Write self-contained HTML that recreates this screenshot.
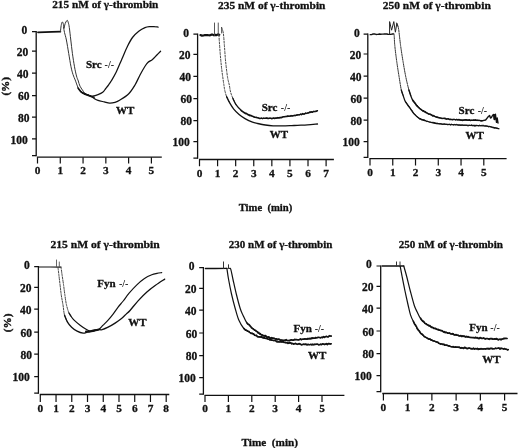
<!DOCTYPE html>
<html><head><meta charset="utf-8"><style>
html,body{margin:0;padding:0;background:#fff;width:520px;height:448px;overflow:hidden;}
body{position:relative;font-family:"Liberation Serif",serif;}
text{fill:#111;}
</style></head><body>
<svg width="520" height="448" viewBox="0 0 520 448" style="will-change:transform;position:absolute;left:0;top:0;font-family:'Liberation Serif', serif">
<rect width="520" height="448" fill="#fff"/>
<path d="M36.2 31 V156.3" stroke="#111" stroke-width="1.3" fill="none"/>
<path d="M32 31.6 H36.2 M32 51.2 H36.2 M32 73.1 H36.2 M32 95.6 H36.2 M32 117.1 H36.2 M32 138.9 H36.2 M32 155.7 H36.2 " stroke="#111" stroke-width="1.2" fill="none"/>
<path d="M36.9 157.2 H161.8" stroke="#111" stroke-width="1.3" fill="none"/>
<path d="M37.5 157.2 V163.4 M60.28 157.2 V163.4 M83.06 157.2 V163.4 M105.84 157.2 V163.4 M128.62 157.2 V163.4 M151.4 157.2 V163.4 " stroke="#111" stroke-width="1.2" fill="none"/>
<text x="27.3" y="33.9" font-size="11.5" font-weight="bold" text-anchor="end" stroke="#111" stroke-width="0.3">0</text>
<text x="28.2" y="56.1" font-size="11.5" font-weight="bold" text-anchor="end" stroke="#111" stroke-width="0.3">20</text>
<text x="28.5" y="78" font-size="11.5" font-weight="bold" text-anchor="end" stroke="#111" stroke-width="0.3">40</text>
<text x="29.4" y="100.2" font-size="11.5" font-weight="bold" text-anchor="end" stroke="#111" stroke-width="0.3">60</text>
<text x="29.4" y="121.9" font-size="11.5" font-weight="bold" text-anchor="end" stroke="#111" stroke-width="0.3">80</text>
<text x="27.8" y="144" font-size="11.5" font-weight="bold" text-anchor="end" stroke="#111" stroke-width="0.3">100</text>
<text x="37.5" y="174.1" font-size="11.3" font-weight="bold" text-anchor="middle" stroke="#111" stroke-width="0.3">0</text>
<text x="60.28" y="174.1" font-size="11.3" font-weight="bold" text-anchor="middle" stroke="#111" stroke-width="0.3">1</text>
<text x="83.06" y="174.1" font-size="11.3" font-weight="bold" text-anchor="middle" stroke="#111" stroke-width="0.3">2</text>
<text x="105.84" y="174.1" font-size="11.3" font-weight="bold" text-anchor="middle" stroke="#111" stroke-width="0.3">3</text>
<text x="128.62" y="174.1" font-size="11.3" font-weight="bold" text-anchor="middle" stroke="#111" stroke-width="0.3">4</text>
<text x="151.4" y="174.1" font-size="11.3" font-weight="bold" text-anchor="middle" stroke="#111" stroke-width="0.3">5</text>
<path d="M197.6 33.6 V158.8" stroke="#111" stroke-width="1.3" fill="none"/>
<path d="M193.4 34.2 H197.6 M193.4 54.3 H197.6 M193.4 76.4 H197.6 M193.4 98.7 H197.6 M193.4 120.7 H197.6 M193.4 141.7 H197.6 M193.4 158.2 H197.6 " stroke="#111" stroke-width="1.2" fill="none"/>
<path d="M199 159.5 H333.9" stroke="#111" stroke-width="1.3" fill="none"/>
<path d="M199.5 159.5 V166.3 M217.59 159.5 V166.3 M235.67 159.5 V166.3 M253.76 159.5 V166.3 M271.84 159.5 V166.3 M289.93 159.5 V166.3 M308.01 159.5 V166.3 M326.1 159.5 V166.3 " stroke="#111" stroke-width="1.2" fill="none"/>
<text x="189.1" y="37.05" font-size="11.5" font-weight="bold" text-anchor="end" stroke="#111" stroke-width="0.3">0</text>
<text x="190.5" y="59.15" font-size="11.5" font-weight="bold" text-anchor="end" stroke="#111" stroke-width="0.3">20</text>
<text x="190.9" y="81.25" font-size="11.5" font-weight="bold" text-anchor="end" stroke="#111" stroke-width="0.3">40</text>
<text x="191.9" y="103.15" font-size="11.5" font-weight="bold" text-anchor="end" stroke="#111" stroke-width="0.3">60</text>
<text x="191.9" y="125.35" font-size="11.5" font-weight="bold" text-anchor="end" stroke="#111" stroke-width="0.3">80</text>
<text x="189.8" y="146.45" font-size="11.5" font-weight="bold" text-anchor="end" stroke="#111" stroke-width="0.3">100</text>
<text x="199.5" y="176.7" font-size="11.3" font-weight="bold" text-anchor="middle" stroke="#111" stroke-width="0.3">0</text>
<text x="217.59" y="176.7" font-size="11.3" font-weight="bold" text-anchor="middle" stroke="#111" stroke-width="0.3">1</text>
<text x="235.67" y="176.7" font-size="11.3" font-weight="bold" text-anchor="middle" stroke="#111" stroke-width="0.3">2</text>
<text x="253.76" y="176.7" font-size="11.3" font-weight="bold" text-anchor="middle" stroke="#111" stroke-width="0.3">3</text>
<text x="271.84" y="176.7" font-size="11.3" font-weight="bold" text-anchor="middle" stroke="#111" stroke-width="0.3">4</text>
<text x="289.93" y="176.7" font-size="11.3" font-weight="bold" text-anchor="middle" stroke="#111" stroke-width="0.3">5</text>
<text x="308.01" y="176.7" font-size="11.3" font-weight="bold" text-anchor="middle" stroke="#111" stroke-width="0.3">6</text>
<text x="326.1" y="176.7" font-size="11.3" font-weight="bold" text-anchor="middle" stroke="#111" stroke-width="0.3">7</text>
<path d="M367.8 33.6 V158" stroke="#111" stroke-width="1.3" fill="none"/>
<path d="M363.6 34.2 H367.8 M363.6 54 H367.8 M363.6 76.2 H367.8 M363.6 98.2 H367.8 M363.6 120.2 H367.8 M363.6 141.7 H367.8 M363.6 157.4 H367.8 " stroke="#111" stroke-width="1.2" fill="none"/>
<path d="M369.4 158.7 H506.6" stroke="#111" stroke-width="1.3" fill="none"/>
<path d="M370 158.7 V165.4 M392.76 158.7 V165.4 M415.52 158.7 V165.4 M438.28 158.7 V165.4 M461.04 158.7 V165.4 M483.8 158.7 V165.4 " stroke="#111" stroke-width="1.2" fill="none"/>
<text x="359.8" y="37.35" font-size="11.5" font-weight="bold" text-anchor="end" stroke="#111" stroke-width="0.3">0</text>
<text x="361.2" y="59.45" font-size="11.5" font-weight="bold" text-anchor="end" stroke="#111" stroke-width="0.3">20</text>
<text x="361.4" y="81.25" font-size="11.5" font-weight="bold" text-anchor="end" stroke="#111" stroke-width="0.3">40</text>
<text x="361.9" y="103.15" font-size="11.5" font-weight="bold" text-anchor="end" stroke="#111" stroke-width="0.3">60</text>
<text x="361.9" y="124.85" font-size="11.5" font-weight="bold" text-anchor="end" stroke="#111" stroke-width="0.3">80</text>
<text x="359.8" y="146.35" font-size="11.5" font-weight="bold" text-anchor="end" stroke="#111" stroke-width="0.3">100</text>
<text x="370" y="176" font-size="11.3" font-weight="bold" text-anchor="middle" stroke="#111" stroke-width="0.3">0</text>
<text x="392.76" y="176" font-size="11.3" font-weight="bold" text-anchor="middle" stroke="#111" stroke-width="0.3">1</text>
<text x="415.52" y="176" font-size="11.3" font-weight="bold" text-anchor="middle" stroke="#111" stroke-width="0.3">2</text>
<text x="438.28" y="176" font-size="11.3" font-weight="bold" text-anchor="middle" stroke="#111" stroke-width="0.3">3</text>
<text x="461.04" y="176" font-size="11.3" font-weight="bold" text-anchor="middle" stroke="#111" stroke-width="0.3">4</text>
<text x="483.8" y="176" font-size="11.3" font-weight="bold" text-anchor="middle" stroke="#111" stroke-width="0.3">5</text>
<path d="M38.4 266 V393.8" stroke="#111" stroke-width="1.3" fill="none"/>
<path d="M34.2 266.6 H38.4 M34.2 287.4 H38.4 M34.2 309.1 H38.4 M34.2 332.2 H38.4 M34.2 354.2 H38.4 M34.2 376.6 H38.4 M34.2 393.2 H38.4 " stroke="#111" stroke-width="1.2" fill="none"/>
<path d="M39.8 394.5 H169.3" stroke="#111" stroke-width="1.3" fill="none"/>
<path d="M40.3 394.5 V402 M56.04 394.5 V402 M71.77 394.5 V402 M87.51 394.5 V402 M103.25 394.5 V402 M118.99 394.5 V402 M134.72 394.5 V402 M150.46 394.5 V402 M166.2 394.5 V402 " stroke="#111" stroke-width="1.2" fill="none"/>
<text x="29.8" y="269.35" font-size="11.5" font-weight="bold" text-anchor="end" stroke="#111" stroke-width="0.3">0</text>
<text x="31.4" y="292.15" font-size="11.5" font-weight="bold" text-anchor="end" stroke="#111" stroke-width="0.3">20</text>
<text x="31.4" y="314.05" font-size="11.5" font-weight="bold" text-anchor="end" stroke="#111" stroke-width="0.3">40</text>
<text x="31.9" y="337.15" font-size="11.5" font-weight="bold" text-anchor="end" stroke="#111" stroke-width="0.3">60</text>
<text x="31.9" y="358.85" font-size="11.5" font-weight="bold" text-anchor="end" stroke="#111" stroke-width="0.3">80</text>
<text x="29.8" y="380.85" font-size="11.5" font-weight="bold" text-anchor="end" stroke="#111" stroke-width="0.3">100</text>
<text x="40.3" y="411.7" font-size="11.3" font-weight="bold" text-anchor="middle" stroke="#111" stroke-width="0.3">0</text>
<text x="56.04" y="411.7" font-size="11.3" font-weight="bold" text-anchor="middle" stroke="#111" stroke-width="0.3">1</text>
<text x="71.77" y="411.7" font-size="11.3" font-weight="bold" text-anchor="middle" stroke="#111" stroke-width="0.3">2</text>
<text x="87.51" y="411.7" font-size="11.3" font-weight="bold" text-anchor="middle" stroke="#111" stroke-width="0.3">3</text>
<text x="103.25" y="411.7" font-size="11.3" font-weight="bold" text-anchor="middle" stroke="#111" stroke-width="0.3">4</text>
<text x="118.99" y="411.7" font-size="11.3" font-weight="bold" text-anchor="middle" stroke="#111" stroke-width="0.3">5</text>
<text x="134.72" y="411.7" font-size="11.3" font-weight="bold" text-anchor="middle" stroke="#111" stroke-width="0.3">6</text>
<text x="150.46" y="411.7" font-size="11.3" font-weight="bold" text-anchor="middle" stroke="#111" stroke-width="0.3">7</text>
<text x="166.2" y="411.7" font-size="11.3" font-weight="bold" text-anchor="middle" stroke="#111" stroke-width="0.3">8</text>
<path d="M203.4 267 V394.7" stroke="#111" stroke-width="1.3" fill="none"/>
<path d="M199.2 267.6 H203.4 M199.2 288.4 H203.4 M199.2 310.1 H203.4 M199.2 333 H203.4 M199.2 355.6 H203.4 M199.2 377.6 H203.4 M199.2 394.1 H203.4 " stroke="#111" stroke-width="1.2" fill="none"/>
<path d="M204.6 395.3 H344.4" stroke="#111" stroke-width="1.3" fill="none"/>
<path d="M205 395.3 V401.9 M228.4 395.3 V401.9 M251.8 395.3 V401.9 M275.2 395.3 V401.9 M298.6 395.3 V401.9 M322 395.3 V401.9 " stroke="#111" stroke-width="1.2" fill="none"/>
<text x="194.4" y="270.15" font-size="11.5" font-weight="bold" text-anchor="end" stroke="#111" stroke-width="0.3">0</text>
<text x="196.5" y="292.85" font-size="11.5" font-weight="bold" text-anchor="end" stroke="#111" stroke-width="0.3">20</text>
<text x="196.5" y="314.95" font-size="11.5" font-weight="bold" text-anchor="end" stroke="#111" stroke-width="0.3">40</text>
<text x="197.2" y="337.95" font-size="11.5" font-weight="bold" text-anchor="end" stroke="#111" stroke-width="0.3">60</text>
<text x="197.2" y="359.85" font-size="11.5" font-weight="bold" text-anchor="end" stroke="#111" stroke-width="0.3">80</text>
<text x="195.8" y="381.75" font-size="11.5" font-weight="bold" text-anchor="end" stroke="#111" stroke-width="0.3">100</text>
<text x="205" y="411.7" font-size="11.3" font-weight="bold" text-anchor="middle" stroke="#111" stroke-width="0.3">0</text>
<text x="228.4" y="411.7" font-size="11.3" font-weight="bold" text-anchor="middle" stroke="#111" stroke-width="0.3">1</text>
<text x="251.8" y="411.7" font-size="11.3" font-weight="bold" text-anchor="middle" stroke="#111" stroke-width="0.3">2</text>
<text x="275.2" y="411.7" font-size="11.3" font-weight="bold" text-anchor="middle" stroke="#111" stroke-width="0.3">3</text>
<text x="298.6" y="411.7" font-size="11.3" font-weight="bold" text-anchor="middle" stroke="#111" stroke-width="0.3">4</text>
<text x="322" y="411.7" font-size="11.3" font-weight="bold" text-anchor="middle" stroke="#111" stroke-width="0.3">5</text>
<path d="M380.7 265.4 V392.2" stroke="#111" stroke-width="1.3" fill="none"/>
<path d="M376.5 266 H380.7 M376.5 286.4 H380.7 M376.5 308.1 H380.7 M376.5 331 H380.7 M376.5 353.6 H380.7 M376.5 375.6 H380.7 M376.5 391.6 H380.7 " stroke="#111" stroke-width="1.2" fill="none"/>
<path d="M382.3 393.5 H517.5" stroke="#111" stroke-width="1.3" fill="none"/>
<path d="M383.4 393.5 V400.5 M407.64 393.5 V400.5 M431.88 393.5 V400.5 M456.12 393.5 V400.5 M480.36 393.5 V400.5 M504.6 393.5 V400.5 " stroke="#111" stroke-width="1.2" fill="none"/>
<text x="371.8" y="267.95" font-size="11.5" font-weight="bold" text-anchor="end" stroke="#111" stroke-width="0.3">0</text>
<text x="373.4" y="290.85" font-size="11.5" font-weight="bold" text-anchor="end" stroke="#111" stroke-width="0.3">20</text>
<text x="373.4" y="312.95" font-size="11.5" font-weight="bold" text-anchor="end" stroke="#111" stroke-width="0.3">40</text>
<text x="373.9" y="335.75" font-size="11.5" font-weight="bold" text-anchor="end" stroke="#111" stroke-width="0.3">60</text>
<text x="373.9" y="358.05" font-size="11.5" font-weight="bold" text-anchor="end" stroke="#111" stroke-width="0.3">80</text>
<text x="371.8" y="379.75" font-size="11.5" font-weight="bold" text-anchor="end" stroke="#111" stroke-width="0.3">100</text>
<text x="383.4" y="411" font-size="11.3" font-weight="bold" text-anchor="middle" stroke="#111" stroke-width="0.3">0</text>
<text x="407.64" y="411" font-size="11.3" font-weight="bold" text-anchor="middle" stroke="#111" stroke-width="0.3">1</text>
<text x="431.88" y="411" font-size="11.3" font-weight="bold" text-anchor="middle" stroke="#111" stroke-width="0.3">2</text>
<text x="456.12" y="411" font-size="11.3" font-weight="bold" text-anchor="middle" stroke="#111" stroke-width="0.3">3</text>
<text x="480.36" y="411" font-size="11.3" font-weight="bold" text-anchor="middle" stroke="#111" stroke-width="0.3">4</text>
<text x="504.6" y="411" font-size="11.3" font-weight="bold" text-anchor="middle" stroke="#111" stroke-width="0.3">5</text>
<text x="52.2" y="8.2" font-size="11" font-weight="bold" text-anchor="start" textLength="106.2" lengthAdjust="spacingAndGlyphs" stroke="#111" stroke-width="0.3">215 nM of &#947;-thrombin</text>
<text x="218.1" y="9.2" font-size="11" font-weight="bold" text-anchor="start" textLength="107.3" lengthAdjust="spacingAndGlyphs" stroke="#111" stroke-width="0.3">235 nM of &#947;-thrombin</text>
<text x="382.8" y="9.2" font-size="11" font-weight="bold" text-anchor="start" textLength="108" lengthAdjust="spacingAndGlyphs" stroke="#111" stroke-width="0.3">250 nM of &#947;-thrombin</text>
<text x="50.4" y="247.8" font-size="11" font-weight="bold" text-anchor="start" textLength="109.3" lengthAdjust="spacingAndGlyphs" stroke="#111" stroke-width="0.3">215 nM of &#947;-thrombin</text>
<text x="228.8" y="247.7" font-size="11" font-weight="bold" text-anchor="start" textLength="103.6" lengthAdjust="spacingAndGlyphs" stroke="#111" stroke-width="0.3">230 nM of &#947;-thrombin</text>
<text x="398.8" y="247.7" font-size="11" font-weight="bold" text-anchor="start" textLength="104.2" lengthAdjust="spacingAndGlyphs" stroke="#111" stroke-width="0.3">250 nM of &#947;-thrombin</text>
<text x="238.7" y="210.9" font-size="11" font-weight="bold" text-anchor="start" textLength="53.5" lengthAdjust="spacingAndGlyphs" stroke="#111" stroke-width="0.3">Time&#160;&#160;(min)</text>
<text x="241.5" y="445.8" font-size="11" font-weight="bold" text-anchor="start" textLength="56.5" lengthAdjust="spacingAndGlyphs" stroke="#111" stroke-width="0.3">Time&#160;&#160;(min)</text>
<text transform="translate(9.0 86.3) rotate(-90)" font-size="11.2" font-weight="bold" text-anchor="middle" stroke="#111" stroke-width="0.4">(%)</text>
<text transform="translate(11.0 322.9) rotate(-90)" font-size="11.2" font-weight="bold" text-anchor="middle" stroke="#111" stroke-width="0.4">(%)</text>
<text x="86" y="68.1" font-size="11" font-weight="bold" text-anchor="start" stroke="#111" stroke-width="0.3">Src</text>
<text x="104.6" y="67.8" font-size="10" font-weight="bold" text-anchor="start">-/-</text>
<text x="116" y="113.8" font-size="11" font-weight="bold" text-anchor="start" stroke="#111" stroke-width="0.3">WT</text>
<text x="261.7" y="111.3" font-size="11" font-weight="bold" text-anchor="start" stroke="#111" stroke-width="0.3">Src</text>
<text x="280.8" y="111" font-size="10" font-weight="bold" text-anchor="start">-/-</text>
<text x="269.8" y="137.5" font-size="11" font-weight="bold" text-anchor="start" stroke="#111" stroke-width="0.3">WT</text>
<text x="458.6" y="113.8" font-size="11" font-weight="bold" text-anchor="start" stroke="#111" stroke-width="0.3">Src</text>
<text x="477.7" y="113.5" font-size="10" font-weight="bold" text-anchor="start">-/-</text>
<text x="465.4" y="139.4" font-size="11" font-weight="bold" text-anchor="start" stroke="#111" stroke-width="0.3">WT</text>
<text x="97.3" y="286.9" font-size="11" font-weight="bold" text-anchor="start" stroke="#111" stroke-width="0.3">Fyn</text>
<text x="119" y="286.6" font-size="10" font-weight="bold" text-anchor="start">-/-</text>
<text x="128.3" y="326" font-size="11" font-weight="bold" text-anchor="start" stroke="#111" stroke-width="0.3">WT</text>
<text x="293.6" y="332.3" font-size="11" font-weight="bold" text-anchor="start" stroke="#111" stroke-width="0.3">Fyn</text>
<text x="314.7" y="332" font-size="10" font-weight="bold" text-anchor="start">-/-</text>
<text x="308.1" y="358.8" font-size="11" font-weight="bold" text-anchor="start" stroke="#111" stroke-width="0.3">WT</text>
<text x="469.2" y="331.3" font-size="11" font-weight="bold" text-anchor="start" stroke="#111" stroke-width="0.3">Fyn</text>
<text x="490.3" y="331" font-size="10" font-weight="bold" text-anchor="start">-/-</text>
<text x="482.3" y="362.5" font-size="11" font-weight="bold" text-anchor="start" stroke="#111" stroke-width="0.3">WT</text>
<path d="M37.9 32.3 L45 32.1 L52 31.9 L60.4 31.6" fill="none" stroke="#111" stroke-width="1.7" stroke-linejoin="round" stroke-linecap="round"/>
<path d="M60.4 31.8 C60.53 30.75 60.9 27.13 61.2 25.5 C61.5 23.87 61.87 22.33 62.2 22 C62.53 21.67 62.9 22.5 63.2 23.5 C63.5 24.5 63.87 27.25 64 28" fill="none" stroke="#333" stroke-width="1.0" stroke-linejoin="round" stroke-linecap="round"/>
<path d="M63.6 27.5 C63.75 28.33 64.03 30.42 64.5 32.5 C64.97 34.58 65.7 36.52 66.4 40 C67.1 43.48 67.93 48.94 68.7 53.4 C69.47 57.86 70.28 63.23 71 66.75 C71.72 70.27 72.3 72.29 73 74.5 C73.7 76.71 74.35 77.8 75.2 80 C76.05 82.2 77.17 85.78 78.1 87.7 C79.03 89.62 79.65 90.47 80.8 91.5 C81.95 92.53 83.4 93.18 85 93.9 C86.6 94.62 89.5 95.48 90.4 95.8" fill="none" stroke="#333" stroke-width="1.0" stroke-linejoin="round" stroke-linecap="round"/>
<path d="M64 28 C64.2 27.25 64.78 24.67 65.2 23.5 C65.62 22.33 66.13 21.52 66.5 21 C66.87 20.48 67.08 20.07 67.4 20.4 C67.72 20.73 68.08 21.82 68.4 23 C68.72 24.18 68.9 24.67 69.3 27.5 C69.7 30.33 70.28 35.68 70.8 40 C71.32 44.32 71.78 48.94 72.4 53.4 C73.02 57.86 73.82 62.98 74.5 66.75 C75.18 70.52 75.87 73.62 76.5 76 C77.13 78.38 77.72 79.3 78.3 81 C78.88 82.7 79.13 84.45 80 86.2 C80.87 87.95 82.58 90.22 83.5 91.5 C84.42 92.78 84.35 93.18 85.5 93.9 C86.65 94.62 89.58 95.48 90.4 95.8" fill="none" stroke="#333" stroke-width="1.0" stroke-linejoin="round" stroke-linecap="round"/>
<path d="M80.8 91.5 C81.5 91.9 83.4 93.18 85 93.9 C86.6 94.62 89.15 95.43 90.4 95.8 C91.65 96.17 91.23 96.3 92.5 96.1 C93.77 95.9 96.3 95.23 98 94.6 C99.7 93.97 101.4 93.32 102.7 92.3 C104 91.28 104.78 89.78 105.8 88.5 C106.82 87.22 107.85 85.93 108.8 84.6 C109.75 83.27 110.26 82.6 111.5 80.5 C112.74 78.4 114.52 75.58 116.25 72 C117.98 68.42 120.03 63.29 121.9 59 C123.78 54.71 125.73 49.83 127.5 46.25 C129.27 42.67 130.62 40 132.5 37.5 C134.38 35 136.67 32.9 138.75 31.25 C140.83 29.6 143.12 28.38 145 27.6 C146.88 26.83 148.5 26.77 150 26.6 C151.5 26.43 152.65 26.52 154 26.6 C155.35 26.68 157.42 27.02 158.1 27.1" fill="none" stroke="#111" stroke-width="1.25" stroke-linejoin="round" stroke-linecap="round"/>
<path d="M85 93.9 C85.9 94.22 88.87 95.03 90.4 95.8 C91.93 96.57 92.93 97.73 94.2 98.5 C95.47 99.27 96.33 99.83 98 100.4 C99.67 100.97 102.27 101.45 104.2 101.9 C106.13 102.35 107.8 103.03 109.6 103.1 C111.4 103.17 113.27 102.82 115 102.3 C116.73 101.78 117.71 101.42 120 100 C122.29 98.58 126.25 96.25 128.75 93.75 C131.25 91.25 133.12 88.12 135 85 C136.88 81.88 138.33 78.12 140 75 C141.67 71.88 143.65 68.37 145 66.25 C146.35 64.13 146.85 63.44 148.1 62.3 C149.35 61.16 151.03 60.62 152.5 59.4 C153.97 58.18 155.55 56.36 156.9 55 C158.25 53.64 159.98 51.88 160.6 51.25" fill="none" stroke="#111" stroke-width="1.25" stroke-linejoin="round" stroke-linecap="round"/>
<path d="M78 88 C78.5 88.63 79.83 90.77 81 91.8 C82.17 92.83 83.43 93.47 85 94.2 C86.57 94.93 88.9 95.7 90.4 96.2 C91.9 96.7 93.4 97.03 94 97.2" fill="none" stroke="#111" stroke-width="1.6" stroke-linejoin="round" stroke-linecap="round"/>
<path d="M200.4 35.07 L201.93 35.65 L203.47 35.5 L205 34.98 L206.25 35.17 L207.5 35.1 L208.75 35.26 L210 35.36 L211.33 34.7 L212.67 34.61 L214 35.3 L215.32 34.89 L216.65 35.14 L217.98 34.4 L219.3 34.8" fill="none" stroke="#111" stroke-width="2.2" stroke-linejoin="round" stroke-linecap="round"/>
<path d="M214.5 35.5 V23 M218.25 35.5 V23 M221.6 33 L221.6 27.5" fill="none" stroke="#444" stroke-width="0.9" stroke-linejoin="round" stroke-linecap="round"/>
<path d="M219 35 C219.02 35.47 218.9 34.73 219.1 37.8 C219.3 40.87 219.77 48.2 220.2 53.4 C220.63 58.6 221.08 63.73 221.7 69 C222.32 74.27 223.38 81.43 223.9 85 C224.42 88.57 224.35 88.47 224.8 90.4 C225.25 92.33 225.78 94.52 226.6 96.6 C227.42 98.68 229.18 101.85 229.7 102.9" fill="none" stroke="#444" stroke-width="1.0" stroke-linejoin="round" stroke-linecap="round" stroke-dasharray="2 1.5"/>
<path d="M226.6 96.6 C227.12 97.65 228.51 100.82 229.7 102.9 C230.89 104.98 232.18 107.17 233.75 109.1 C235.32 111.03 237.16 112.87 239.1 114.5 C241.04 116.13 243.17 117.62 245.4 118.9 C247.63 120.18 250.45 121.43 252.5 122.2 C254.55 122.97 255.55 123.03 257.7 123.5 C259.85 123.97 262.83 124.62 265.4 125 C267.97 125.38 270.53 125.65 273.1 125.8 C275.67 125.95 277.98 125.92 280.8 125.9 C283.62 125.88 287.22 125.8 290 125.7 C292.78 125.6 294.58 125.43 297.5 125.3 C300.42 125.17 304.17 125.12 307.5 124.9 C310.83 124.68 315.83 124.15 317.5 124" fill="none" stroke="#111" stroke-width="1.3" stroke-linejoin="round" stroke-linecap="round"/>
<path d="M221.6 27.5 C221.88 28.43 222.83 30.08 223.3 33.1 C223.77 36.12 224.02 40.91 224.4 45.6 C224.78 50.29 225.08 56.03 225.6 61.25 C226.12 66.47 226.88 72.94 227.5 76.9 C228.12 80.86 228.78 82.47 229.3 85 C229.82 87.53 230 89.87 230.6 92.1 C231.2 94.33 232 96.32 232.9 98.4 C233.8 100.48 235.48 103.57 236 104.6" fill="none" stroke="#444" stroke-width="1.0" stroke-linejoin="round" stroke-linecap="round" stroke-dasharray="2 1.5"/>
<path d="M232.9 98.4 C233.42 99.43 234.67 102.67 236 104.6 C237.33 106.53 239.19 108.5 240.9 110 C242.61 111.5 244.73 112.73 246.25 113.6 C247.77 114.47 248.34 114.53 250 115.2 C251.66 115.87 254.28 117.07 256.2 117.6 C258.12 118.13 259.33 118.27 261.5 118.4 C263.67 118.53 266.63 118.47 269.2 118.4 C271.77 118.33 274.58 118.25 276.9 118 C279.22 117.75 280.92 117.2 283.1 116.9 C285.28 116.6 287.6 116.52 290 116.2 C292.4 115.88 294.58 115.52 297.5 115 C300.42 114.48 304.17 113.83 307.5 113.1 C310.83 112.37 315.83 111.02 317.5 110.6" fill="none" stroke="#111" stroke-width="1.3" stroke-linejoin="round" stroke-linecap="round"/>
<path d="M240.9 110.47 L241.79 111.22 L242.68 111.88 L243.57 112.67 L244.47 112.97 L245.36 113.81 L246.25 113.14 L247.19 114.15 L248.12 115.22 L249.06 115.21 L250 115.96 L251.03 115.24 L252.07 116.12 L253.1 116.2 L254.13 116.99 L255.17 117.42 L256.2 117.02 L257.26 117.44 L258.32 117.67 L259.38 118.7 L260.44 118.63 L261.5 117.92 L262.6 118.82 L263.7 117.89 L264.8 118.56 L265.9 117.88 L267 117.7 L268.1 118.92 L269.2 117.99 L270.3 117.94 L271.4 118.96 L272.5 118.75 L273.6 117.88 L274.7 118.76 L275.8 118.11 L276.9 118.25 L277.93 117.4 L278.97 118.25 L280 117.72 L281.03 117.92 L282.07 117.63 L283.1 116.62 L284.25 116.59 L285.4 116.2 L286.55 116.05 L287.7 115.82 L288.85 116.04 L290 116.34 L291.07 115.33 L292.14 116.11 L293.21 115.46 L294.29 115.25 L295.36 115.79 L296.43 115.14 L297.5 114.74 L298.5 114.78 L299.5 114.91 L300.5 113.81 L301.5 114.91 L302.5 113.38 L303.5 114.21 L304.5 114.15 L305.5 112.81 L306.5 113.69 L307.5 112.91 L308.5 112.96 L309.5 111.91 L310.5 111.72 L311.5 111.65 L312.5 112.49 L313.5 111.18 L314.5 111.71 L315.5 111.7 L316.5 111.47 L317.5 110.6" fill="none" stroke="#111" stroke-width="1.1" stroke-linejoin="round" stroke-linecap="round"/>
<path d="M370.2 34.62 L371.65 34.59 L373.1 33.94 L374.55 33.93 L376 34.43 L377.2 34.35 L378.4 34.28 L379.6 34.01 L380.8 34.19 L382 34.17 L383.2 34.16 L384.4 33.86 L385.6 34.05 L386.8 34.03 L388 34.26 L389.32 34.42 L390.65 34.36 L391.98 34.06 L393.3 34" fill="none" stroke="#111" stroke-width="1.4" stroke-linejoin="round" stroke-linecap="round"/>
<path d="M389.6 34.5 L389.6 21.6 L391.6 30.2 L393.8 21.6 L395.4 32.2 L396.8 23.3 L397.9 26.25" fill="none" stroke="#222" stroke-width="1.0" stroke-linejoin="round" stroke-linecap="round"/>
<path d="M393.5 33.5 C393.6 33.7 393.88 32.68 394.1 34.7 C394.32 36.72 394.37 41.18 394.8 45.6 C395.23 50.02 395.98 56.03 396.7 61.25 C397.42 66.47 398.33 72.11 399.1 76.9 C399.87 81.69 400.63 86.92 401.3 90 C401.97 93.08 402.8 94.5 403.1 95.4" fill="none" stroke="#333" stroke-width="1.0" stroke-linejoin="round" stroke-linecap="round" stroke-dasharray="2.5 1"/>
<path d="M401.3 90 C401.6 90.9 402.42 93.47 403.1 95.4 C403.78 97.33 404.28 99.52 405.4 101.6 C406.52 103.68 408.32 105.82 409.8 107.9 C411.28 109.98 412.67 112.32 414.3 114.1 C415.93 115.88 417.52 117.41 419.6 118.6 C421.68 119.79 424.42 120.52 426.8 121.25 C429.18 121.98 431.7 122.58 433.9 123 C436.1 123.42 437.07 123.53 440 123.8 C442.93 124.07 447.65 124.37 451.5 124.6 C455.35 124.83 459.25 125.05 463.1 125.2 C466.95 125.35 471.15 125.4 474.6 125.5 C478.05 125.6 481.1 125.57 483.8 125.8 C486.5 126.03 488.3 126.42 490.8 126.9 C493.3 127.38 497.47 128.4 498.8 128.7" fill="none" stroke="#111" stroke-width="1.3" stroke-linejoin="round" stroke-linecap="round"/>
<path d="M405.4 101.39 L406.03 102.08 L406.66 103.58 L407.29 103.79 L407.91 105.24 L408.54 105.94 L409.17 106.47 L409.8 107.91 L410.44 108.23 L411.09 109.59 L411.73 110.04 L412.37 110.95 L413.01 112.24 L413.66 113.61 L414.3 113.65 L415.18 114.52 L416.07 115.75 L416.95 116.89 L417.83 117.19 L418.72 117.73 L419.6 119.17 L420.63 118.43 L421.66 119.79 L422.69 119.48 L423.71 119.69 L424.74 120.03 L425.77 120.64 L426.8 121.63 L427.81 121.12 L428.83 121.85 L429.84 122.17 L430.86 122.1 L431.87 122.56 L432.89 122.23 L433.9 122.47 L434.92 122.78 L435.93 123.48 L436.95 123.31 L437.97 123.31 L438.98 123.77 L440 123.74 L441.05 123.63 L442.09 124.3 L443.14 124.26 L444.18 123.78 L445.23 124.25 L446.27 124.27 L447.32 124.76 L448.36 124.66 L449.41 124.2 L450.45 125.1 L451.5 124.14 L452.55 124.56 L453.61 125.02 L454.66 124.35 L455.72 124.8 L456.77 124.32 L457.83 125.13 L458.88 125.3 L459.94 125.12 L460.99 125.54 L462.05 124.92 L463.1 125.43 L464.15 125.34 L465.19 125.35 L466.24 125.23 L467.28 125.72 L468.33 125.87 L469.37 125.33 L470.42 125.59 L471.46 124.89 L472.51 125.69 L473.55 125.65 L474.6 126.09 L475.62 125.92 L476.64 125.31 L477.67 125.46 L478.69 125.84 L479.71 125.09 L480.73 125.65 L481.76 125.33 L482.78 125.31 L483.8 125.27 L484.8 126.28 L485.8 125.67 L486.8 125.97 L487.8 126.3 L488.8 127.03 L489.8 126.24 L490.8 126.84 L491.8 127.18 L492.8 127.81 L493.8 127.96 L494.8 128.24 L495.8 127.76 L496.8 128.15 L497.8 128.31 L498.8 128.7" fill="none" stroke="#111" stroke-width="1.0" stroke-linejoin="round" stroke-linecap="round"/>
<path d="M396.6 23 C396.82 23.54 397.54 25.08 397.9 26.25 C398.26 27.42 398.3 26.77 398.75 30 C399.2 33.23 399.89 40.39 400.6 45.6 C401.31 50.81 402.13 56.03 403 61.25 C403.87 66.47 404.82 72.11 405.8 76.9 C406.78 81.69 408.08 86.92 408.9 90 C409.72 93.08 410.4 94.5 410.7 95.4" fill="none" stroke="#333" stroke-width="1.0" stroke-linejoin="round" stroke-linecap="round" stroke-dasharray="2.5 1"/>
<path d="M408.9 90 C409.2 90.9 410.1 93.77 410.7 95.4 C411.3 97.03 411.53 98.17 412.5 99.8 C413.47 101.43 415.17 103.63 416.5 105.2 C417.83 106.77 419.02 108.02 420.5 109.2 C421.98 110.38 423.75 111.4 425.4 112.3 C427.05 113.2 428.68 113.85 430.4 114.6 C432.12 115.35 434.1 116.25 435.7 116.8 C437.3 117.35 437.37 117.47 440 117.9 C442.63 118.33 447.65 119.05 451.5 119.4 C455.35 119.75 459.25 119.85 463.1 120 C466.95 120.15 471.33 120.2 474.6 120.3 C477.87 120.4 481.35 120.55 482.7 120.6" fill="none" stroke="#111" stroke-width="1.4" stroke-linejoin="round" stroke-linecap="round"/>
<path d="M412.5 99.42 L413.17 101.35 L413.83 101.08 L414.5 102.79 L415.17 102.82 L415.83 103.95 L416.5 105.9 L417.3 105.59 L418.1 107 L418.9 107.54 L419.7 108.33 L420.5 109.19 L421.48 109.39 L422.46 110.9 L423.44 110.49 L424.42 111.31 L425.4 111.63 L426.4 112.43 L427.4 113.09 L428.4 114.24 L429.4 113.97 L430.4 114.06 L431.46 114.7 L432.52 116.17 L433.58 115.31 L434.64 116.53 L435.7 116.63 L436.77 117.3 L437.85 117.12 L438.93 117.89 L440 117.9 L441.05 118.25 L442.09 118.73 L443.14 118.42 L444.18 117.94 L445.23 117.97 L446.27 119.34 L447.32 118.84 L448.36 118.56 L449.41 119.75 L450.45 119.37 L451.5 119.72 L452.55 119.99 L453.61 119.21 L454.66 119.36 L455.72 120.15 L456.77 119.16 L457.83 120.1 L458.88 119.22 L459.94 120.1 L460.99 120.17 L462.05 120.58 L463.1 120.48 L464.15 120.03 L465.19 119.63 L466.24 119.59 L467.28 120.15 L468.33 120.15 L469.37 119.56 L470.42 120.76 L471.46 120.23 L472.51 120.53 L473.55 119.88 L474.6 119.94 L475.61 119.65 L476.62 120.16 L477.64 120.09 L478.65 120.34 L479.66 120.32 L480.68 120.99 L481.69 121.11 L482.7 120.6" fill="none" stroke="#111" stroke-width="1.1" stroke-linejoin="round" stroke-linecap="round"/>
<path d="M482.7 120.6 L485.6 120 L487.9 117.1 L489.6 115.4 L490.5 118 L491.3 117.7 L492.5 115.5 L493.5 114.4 L494.5 119.5 L495.4 114.2 L496 119 L496.5 122.3 L497.2 118 L498 123" fill="none" stroke="#111" stroke-width="1.4" stroke-linejoin="round" stroke-linecap="round"/>
<path d="M494.6 115 L494.6 119" fill="none" stroke="#111" stroke-width="2.2" stroke-linejoin="round" stroke-linecap="round"/>
<path d="M39.25 267 L50 267 L61.1 267.1" fill="none" stroke="#111" stroke-width="1.2" stroke-linejoin="round" stroke-linecap="round"/>
<path d="M56.5 267 V260 M59.3 267 V262" fill="none" stroke="#555" stroke-width="0.9" stroke-linejoin="round" stroke-linecap="round"/>
<path d="M58 267.5 C58.15 268.77 58.55 272.15 58.9 275.1 C59.25 278.05 59.7 281.85 60.1 285.2 C60.5 288.55 60.82 291.9 61.3 295.2 C61.78 298.5 62.47 301.68 63 305 C63.53 308.32 63.75 312.25 64.5 315.1 C65.25 317.95 67 320.93 67.5 322.1" fill="none" stroke="#444" stroke-width="1.0" stroke-linejoin="round" stroke-linecap="round" stroke-dasharray="2.2 1.2"/>
<path d="M64.5 315.1 C65 316.27 66.32 320.08 67.5 322.1 C68.68 324.12 70 325.68 71.6 327.2 C73.2 328.72 75.18 330.2 77.1 331.2 C79.02 332.2 81.43 333.03 83.1 333.2 C84.77 333.37 85.58 332.68 87.1 332.2 C88.62 331.72 90.72 330.7 92.2 330.3 C93.68 329.9 94.87 329.97 96 329.8 C97.13 329.63 97.98 329.32 99 329.3 C100.02 329.28 100.58 330.05 102.1 329.7 C103.62 329.35 105.93 328.3 108.1 327.2 C110.27 326.1 112.92 324.5 115.1 323.1 C117.28 321.7 119.35 320.3 121.2 318.8 C123.05 317.3 124.73 315.48 126.2 314.1 C127.67 312.72 127.98 312.75 130 310.5 C132.02 308.25 135.48 303.68 138.3 300.6 C141.12 297.52 144.03 294.55 146.9 292 C149.77 289.45 152.53 287.45 155.5 285.3 C158.47 283.15 163.17 280.13 164.7 279.1" fill="none" stroke="#111" stroke-width="1.3" stroke-linejoin="round" stroke-linecap="round"/>
<path d="M60.5 267.3 C60.6 267.43 60.83 266.8 61.1 268.1 C61.37 269.4 61.68 272.25 62.1 275.1 C62.52 277.95 63.13 281.85 63.6 285.2 C64.07 288.55 64.42 291.9 64.9 295.2 C65.38 298.5 65.82 302.02 66.5 305 C67.18 307.98 68.17 311.1 69 313.1 C69.83 315.1 71.08 316.35 71.5 317" fill="none" stroke="#444" stroke-width="1.0" stroke-linejoin="round" stroke-linecap="round" stroke-dasharray="2.2 1.2"/>
<path d="M69 313.1 C69.42 313.75 70.65 315.83 71.5 317 C72.35 318.17 72.67 318.73 74.1 320.1 C75.53 321.47 78.1 323.68 80.1 325.2 C82.1 326.72 84.42 328.23 86.1 329.2 C87.78 330.17 88.88 330.73 90.2 331 C91.52 331.27 92.53 331.1 94 330.8 C95.47 330.5 97.48 330.13 99 329.2 C100.52 328.27 101.58 326.72 103.1 325.2 C104.62 323.68 106.43 321.95 108.1 320.1 C109.77 318.25 111.43 316.27 113.1 314.1 C114.77 311.93 116.42 309.28 118.1 307.1 C119.78 304.92 121.37 303.32 123.2 301 C125.03 298.68 126.78 295.93 129.1 293.2 C131.42 290.47 134.53 287.05 137.1 284.6 C139.67 282.15 142.05 280.13 144.5 278.5 C146.95 276.87 149.72 275.65 151.8 274.8 C153.88 273.95 155.35 273.77 157 273.4 C158.65 273.03 160.92 272.73 161.7 272.6" fill="none" stroke="#111" stroke-width="1.2" stroke-linejoin="round" stroke-linecap="round"/>
<path d="M86 331.5 C86.7 331.52 88.87 331.72 90.2 331.6 C91.53 331.48 92.53 331.13 94 330.8 C95.47 330.47 98.17 329.8 99 329.6" fill="none" stroke="#111" stroke-width="2.0" stroke-linejoin="round" stroke-linecap="round"/>
<path d="M205.4 268.5 L215 268.5 L226.9 268.4" fill="none" stroke="#111" stroke-width="1.4" stroke-linejoin="round" stroke-linecap="round"/>
<path d="M223.5 268.5 V261.9 M228.5 268.5 V264.75" fill="none" stroke="#333" stroke-width="1.0" stroke-linejoin="round" stroke-linecap="round"/>
<path d="M226.9 268.4 C227.18 270.25 227.83 275.23 228.6 279.5 C229.37 283.77 230.4 289.17 231.5 294 C232.6 298.83 233.98 304.15 235.2 308.5 C236.42 312.85 237.37 316.77 238.8 320.1 C240.23 323.43 242 326.47 243.8 328.5 C245.6 330.53 247.52 331.1 249.6 332.3 C251.68 333.5 253.9 334.73 256.3 335.7 C258.7 336.67 261.43 337.38 264 338.1 C266.57 338.82 268.97 339.37 271.7 340 C274.43 340.63 278.18 341.52 280.4 341.9 C282.62 342.28 282.63 341.99 285 342.3 C287.37 342.61 291.4 343.37 294.6 343.75 C297.8 344.13 301 344.46 304.2 344.6 C307.4 344.74 310.58 344.67 313.8 344.6 C317.02 344.53 320.6 344.34 323.5 344.2 C326.4 344.06 329.92 343.82 331.2 343.75" fill="none" stroke="#111" stroke-width="1.2" stroke-linejoin="round" stroke-linecap="round"/>
<path d="M229.5 268.4 C229.72 268.57 230.22 267.55 230.8 269.4 C231.38 271.25 232.08 275.4 233 279.5 C233.92 283.6 235.1 289.17 236.3 294 C237.5 298.83 239.1 305 240.2 308.5 C241.3 312 241.82 312.63 242.9 315 C243.98 317.37 245.27 320.62 246.7 322.7 C248.13 324.78 249.9 326.07 251.5 327.5 C253.1 328.93 254.68 330.1 256.3 331.3 C257.92 332.5 259.27 333.73 261.2 334.7 C263.13 335.67 265.5 336.38 267.9 337.1 C270.3 337.82 273.03 338.45 275.6 339 C278.17 339.55 280.13 340.25 283.3 340.4 C286.47 340.55 291.12 340.1 294.6 339.9 C298.08 339.7 301 339.47 304.2 339.2 C307.4 338.93 310.58 338.67 313.8 338.3 C317.02 337.93 320.6 337.37 323.5 337 C326.4 336.63 329.92 336.25 331.2 336.1" fill="none" stroke="#111" stroke-width="1.2" stroke-linejoin="round" stroke-linecap="round"/>
<path d="M243.8 328.43 L244.63 329.13 L245.46 330.18 L246.29 330.08 L247.11 330.68 L247.94 331.34 L248.77 331.32 L249.6 332.32 L250.44 332.91 L251.28 333.56 L252.11 333.01 L252.95 333.72 L253.79 333.85 L254.62 335.28 L255.46 335.55 L256.3 335.06 L257.26 336.68 L258.23 336.95 L259.19 336.82 L260.15 337.06 L261.11 336.72 L262.07 336.82 L263.04 337.84 L264 337.48 L264.96 337.9 L265.93 338.21 L266.89 338.15 L267.85 339 L268.81 339.2 L269.77 340 L270.74 339.79 L271.7 340.2 L272.67 340.21 L273.63 340.65 L274.6 340.57 L275.57 340.53 L276.53 341.75 L277.5 341.96 L278.47 341.95 L279.43 341.98 L280.4 341.64 L281.32 341.6 L282.24 341.76 L283.16 341.54 L284.08 342.59 L285 342.16 L285.96 342.93 L286.92 342.43 L287.88 343.38 L288.84 343.37 L289.8 342.33 L290.76 342.76 L291.72 343.89 L292.68 343.42 L293.64 344.28 L294.6 343.61 L295.56 343.24 L296.52 344.1 L297.48 344.39 L298.44 343.77 L299.4 343.6 L300.36 344.03 L301.32 344.99 L302.28 344.79 L303.24 343.98 L304.2 344.24 L305.16 344.04 L306.12 343.98 L307.08 345.02 L308.04 344.15 L309 344.68 L309.96 344.53 L310.92 344.17 L311.88 344.92 L312.84 344.08 L313.8 344.8 L314.77 344.02 L315.74 344.41 L316.71 344.08 L317.68 344.12 L318.65 345.06 L319.62 344.78 L320.59 344.05 L321.56 344.82 L322.53 343.83 L323.5 344.05 L324.46 344.64 L325.43 344.29 L326.39 343.47 L327.35 344.66 L328.31 343.52 L329.27 343.52 L330.24 344.19 L331.2 343.75" fill="none" stroke="#111" stroke-width="1.5" stroke-linejoin="round" stroke-linecap="round"/>
<path d="M246.7 322.66 L247.39 323.61 L248.07 324.3 L248.76 324.26 L249.44 324.76 L250.13 325.95 L250.81 326.5 L251.5 327.93 L252.3 328.4 L253.1 328.91 L253.9 329.48 L254.7 330.26 L255.5 330.17 L256.3 331.22 L257.12 331.39 L257.93 333 L258.75 332.38 L259.57 334.01 L260.38 333.54 L261.2 334.96 L262.16 334.81 L263.11 335.25 L264.07 336.21 L265.03 335.4 L265.99 335.8 L266.94 337.34 L267.9 337.11 L268.86 336.76 L269.82 338.26 L270.79 338.44 L271.75 337.51 L272.71 338.18 L273.68 338.01 L274.64 338.5 L275.6 339.17 L276.56 338.7 L277.53 339.63 L278.49 338.9 L279.45 339.24 L280.41 340.32 L281.38 339.91 L282.34 340.11 L283.3 340.53 L284.24 340.33 L285.18 340.16 L286.12 339.62 L287.07 340.55 L288.01 340.85 L288.95 340.82 L289.89 340.34 L290.83 339.87 L291.78 339.83 L292.72 340.25 L293.66 340.18 L294.6 339.36 L295.56 339.46 L296.52 339.57 L297.48 339.71 L298.44 340.05 L299.4 339.55 L300.36 338.82 L301.32 339.86 L302.28 339.24 L303.24 339.3 L304.2 338.81 L305.16 339.01 L306.12 338.86 L307.08 339.31 L308.04 338.28 L309 338.82 L309.96 338.21 L310.92 338.84 L311.88 337.83 L312.84 338.08 L313.8 338.08 L314.77 338.36 L315.74 337.41 L316.71 337.85 L317.68 337.37 L318.65 337.34 L319.62 337.49 L320.59 338.03 L321.56 337.23 L322.53 337.77 L323.5 336.53 L324.46 337.48 L325.43 336.58 L326.39 336.23 L327.35 336.9 L328.31 337.01 L329.27 335.63 L330.24 335.89 L331.2 336.1" fill="none" stroke="#111" stroke-width="1.5" stroke-linejoin="round" stroke-linecap="round"/>
<path d="M382 266 L392 266 L403.75 266" fill="none" stroke="#111" stroke-width="1.4" stroke-linejoin="round" stroke-linecap="round"/>
<path d="M396.5 266 V261.9 M400 266 V261.9" fill="none" stroke="#333" stroke-width="1.0" stroke-linejoin="round" stroke-linecap="round"/>
<path d="M400.2 266.4 C400.52 268.08 401.3 272.4 402.1 276.5 C402.9 280.6 403.98 286.17 405 291 C406.02 295.83 407.28 301.52 408.2 305.5 C409.12 309.48 409.63 312.22 410.5 314.9 C411.37 317.58 412.2 319.2 413.4 321.6 C414.6 324 416.18 327.05 417.7 329.3 C419.22 331.55 420.58 333.5 422.5 335.1 C424.42 336.7 426.8 337.7 429.2 338.9 C431.6 340.1 434.17 341.25 436.9 342.3 C439.63 343.35 442.87 344.4 445.6 345.2 C448.33 346 450.9 346.7 453.3 347.1 C455.7 347.5 457.22 347.38 460 347.6 C462.78 347.82 466.67 348.18 470 348.4 C473.33 348.62 476.67 348.83 480 348.9 C483.33 348.97 486.67 348.87 490 348.8 C493.33 348.73 496.95 348.37 500 348.5 C503.05 348.63 506.92 349.42 508.3 349.6" fill="none" stroke="#111" stroke-width="1.2" stroke-linejoin="round" stroke-linecap="round"/>
<path d="M403.75 266 C404.24 267.75 405.61 272.33 406.7 276.5 C407.79 280.67 409.03 286.17 410.3 291 C411.57 295.83 413.15 302 414.3 305.5 C415.45 309 416.15 309.8 417.2 312 C418.25 314.2 419.23 316.78 420.6 318.7 C421.97 320.62 423.48 322.05 425.4 323.5 C427.32 324.95 429.53 326.19 432.1 327.4 C434.67 328.61 437.75 329.72 440.8 330.75 C443.85 331.78 447.2 332.74 450.4 333.6 C453.6 334.46 456.73 335.28 460 335.9 C463.27 336.52 466.67 336.92 470 337.3 C473.33 337.68 476.67 337.95 480 338.2 C483.33 338.45 486.67 338.6 490 338.8 C493.33 339 497.17 339.45 500 339.4 C502.83 339.35 505.83 338.65 507 338.5" fill="none" stroke="#111" stroke-width="1.2" stroke-linejoin="round" stroke-linecap="round"/>
<path d="M413.4 321.24 L413.88 322.73 L414.36 323.59 L414.83 324.69 L415.31 324.55 L415.79 325.47 L416.27 326.2 L416.74 327.18 L417.22 328.8 L417.7 328.75 L418.3 330.07 L418.9 330.32 L419.5 331.17 L420.1 332.1 L420.7 333.43 L421.3 333.81 L421.9 333.65 L422.5 334.76 L423.34 335.05 L424.18 336.61 L425.01 336.99 L425.85 337.46 L426.69 337.96 L427.52 338.32 L428.36 339.1 L429.2 339.34 L430.06 338.91 L430.91 340.18 L431.77 340.01 L432.62 340.79 L433.48 340.89 L434.33 341.06 L435.19 341.34 L436.04 341.82 L436.9 342.02 L437.77 342.02 L438.64 343.36 L439.51 343.62 L440.38 344.19 L441.25 344.04 L442.12 344.12 L442.99 344.7 L443.86 344.07 L444.73 345.18 L445.6 345.12 L446.56 344.95 L447.53 345.23 L448.49 345.95 L449.45 345.78 L450.41 346.33 L451.38 346.78 L452.34 346.71 L453.3 346.55 L454.26 347.16 L455.21 346.85 L456.17 346.92 L457.13 346.93 L458.09 347.26 L459.04 346.89 L460 347.83 L460.91 348.35 L461.82 347.58 L462.73 348.15 L463.64 348.54 L464.55 347.28 L465.45 347.5 L466.36 348.57 L467.27 348.69 L468.18 348.46 L469.09 347.82 L470 348.27 L470.91 349 L471.82 349.07 L472.73 348.99 L473.64 348.14 L474.55 349.16 L475.45 348.48 L476.36 349.04 L477.27 348.22 L478.18 349.52 L479.09 349.01 L480 349.23 L480.91 348.46 L481.82 349.06 L482.73 348.99 L483.64 349 L484.55 348.64 L485.45 349.19 L486.36 348.6 L487.27 348.52 L488.18 348.31 L489.09 349.09 L490 348.22 L490.91 348.36 L491.82 348.1 L492.73 348.93 L493.64 348.78 L494.55 348.73 L495.45 347.94 L496.36 348.52 L497.27 348.35 L498.18 347.94 L499.09 347.78 L500 349.25 L500.92 348.05 L501.84 348.45 L502.77 348.52 L503.69 349.13 L504.61 348.48 L505.53 349.19 L506.46 349.16 L507.38 349.98 L508.3 349.6" fill="none" stroke="#111" stroke-width="1.5" stroke-linejoin="round" stroke-linecap="round"/>
<path d="M420.6 318.15 L421.29 319.67 L421.97 320.28 L422.66 321.37 L423.34 321.12 L424.03 321.79 L424.71 323.14 L425.4 323.72 L426.24 323.71 L427.07 324.73 L427.91 324.82 L428.75 325.84 L429.59 325.4 L430.43 326.04 L431.26 327.47 L432.1 327.2 L432.97 327.4 L433.84 328.5 L434.71 328.59 L435.58 328.25 L436.45 329.15 L437.32 329.64 L438.19 329.28 L439.06 330.29 L439.93 329.89 L440.8 330.52 L441.67 330.43 L442.55 330.85 L443.42 332.2 L444.29 331.65 L445.16 332.73 L446.04 332.22 L446.91 332.71 L447.78 333.34 L448.65 333.34 L449.53 332.8 L450.4 333.72 L451.36 334.02 L452.32 333.61 L453.28 333.72 L454.24 335.04 L455.2 334.77 L456.16 334.55 L457.12 335.14 L458.08 335.05 L459.04 336.09 L460 335.9 L460.91 335.47 L461.82 336.6 L462.73 335.71 L463.64 336.1 L464.55 335.88 L465.45 337 L466.36 336.25 L467.27 336.95 L468.18 336.48 L469.09 337.15 L470 337.56 L470.91 337.43 L471.82 337.4 L472.73 337.52 L473.64 337.54 L474.55 337.84 L475.45 337.22 L476.36 337.84 L477.27 337.59 L478.18 338.55 L479.09 338.73 L480 337.59 L480.91 337.76 L481.82 338.59 L482.73 338.46 L483.64 337.74 L484.55 338.76 L485.45 339.15 L486.36 338.47 L487.27 338.42 L488.18 338.79 L489.09 339.36 L490 338.47 L490.91 338.58 L491.82 338.47 L492.73 339.14 L493.64 338.98 L494.55 338.73 L495.45 338.97 L496.36 338.53 L497.27 338.97 L498.18 339.97 L499.09 339.47 L500 339.1 L501 339.88 L502 338.94 L503 338.67 L504 338.23 L505 338.26 L506 338.21 L507 338.5" fill="none" stroke="#111" stroke-width="1.5" stroke-linejoin="round" stroke-linecap="round"/>
</svg>
</body></html>
